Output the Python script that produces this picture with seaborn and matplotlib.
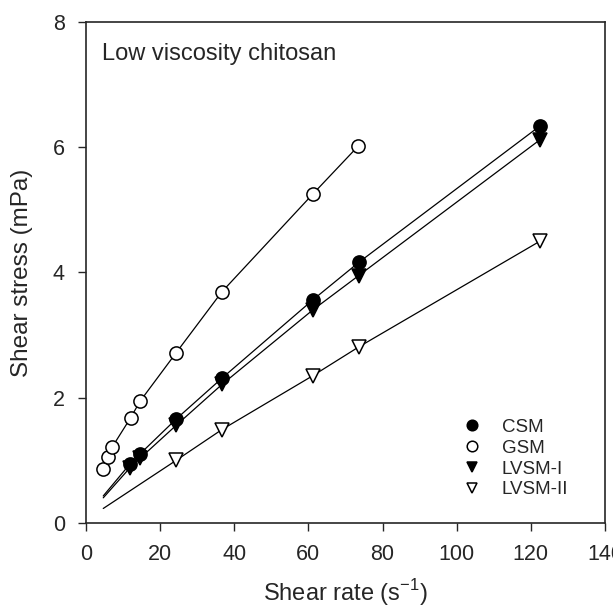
# Shear stress vs shear rate, low viscosity chitosan

import numpy as np
import pandas as pd
import matplotlib
matplotlib.use("Agg")
import matplotlib.pyplot as plt
import seaborn as sns

# Data
series = ["CSM", "GSM", "LVSM-I", "LVSM-II"]

csm_rate = [11.9, 14.6, 24.4, 36.7, 61.2, 73.6, 122.5]
csm_stress = [0.94, 1.10, 1.66, 2.31, 3.56, 4.16, 6.34]

gsm_rate = [4.7, 5.9, 7.1, 12.1, 14.6, 24.4, 36.7, 61.2, 73.5]
gsm_stress = [0.86, 1.05, 1.21, 1.68, 1.94, 2.72, 3.69, 5.25, 6.02]

lvsm1_rate = [11.9, 14.6, 24.4, 36.7, 61.2, 73.6, 122.5]
lvsm1_stress = [0.88, 1.03, 1.56, 2.21, 3.40, 3.95, 6.12]

lvsm2_rate = [24.4, 36.7, 61.2, 73.6, 122.5]
lvsm2_stress = [1.00, 1.49, 2.35, 2.81, 4.50]

# where the fitted lines begin
line_start_rate = [4.7, 4.7, 4.7, 4.7]
line_start_stress = [0.43, 0.86, 0.40, 0.23]

rates = [csm_rate, gsm_rate, lvsm1_rate, lvsm2_rate]
stresses = [csm_stress, gsm_stress, lvsm1_stress, lvsm2_stress]
markers = ["o", "o", "v", "v"]
filled = [True, False, True, False]

sns.set_style("ticks")
plt.rcParams["font.family"] = ["Liberation Sans", "DejaVu Sans"]
plt.rcParams["mathtext.fontset"] = "custom"
plt.rcParams["mathtext.rm"] = "Liberation Sans"

fig = plt.figure(figsize=(6.13, 6.08), dpi=100)
ax = fig.add_axes([0.140, 0.140, 0.847, 0.824])

for i, name in enumerate(series):
    # fitted curve: start point followed by the measured points
    lx = [line_start_rate[i]] + [r for r in rates[i] if r > line_start_rate[i]]
    ly = [line_start_stress[i]] + [s for r, s in zip(rates[i], stresses[i]) if r > line_start_rate[i]]
    sns.lineplot(x=lx, y=ly, ax=ax, color="black", linewidth=0.9,
                 sort=False, estimator=None, legend=False)

for i, name in enumerate(series):
    fc = "black" if filled[i] else "white"
    ax.plot(rates[i], stresses[i], linestyle="none", marker=markers[i],
            markersize=9.5, markerfacecolor=fc, markeredgecolor="black",
            markeredgewidth=1.1, label=name, zorder=3)

ax.set_xlim(0, 140)
ax.set_ylim(0, 8)
ax.set_xticks(np.arange(0, 141, 20))
ax.set_yticks(np.arange(0, 9, 2))
ax.tick_params(labelsize=15.5, length=6, width=1.0, direction="out", pad=9)

for side in ["top", "right", "left", "bottom"]:
    ax.spines[side].set_visible(True)
    ax.spines[side].set_linewidth(1.2)

ax.set_xlabel("Shear rate (s$^{-1}$)", fontsize=17, labelpad=9)
ax.set_ylabel("Shear stress (mPa)", fontsize=17.5, labelpad=14)

ax.text(0.032, 0.957, "Low viscosity chitosan", transform=ax.transAxes,
        fontsize=17, va="top", ha="left")

handles, labels = ax.get_legend_handles_labels()
leg = ax.legend(handles, labels, loc="lower right", bbox_to_anchor=(0.962, 0.015),
                frameon=False, fontsize=13.5, markerscale=0.8, handlelength=1.2,
                handletextpad=1.0, labelspacing=0.2)

fig.savefig("out.png", dpi=100)
